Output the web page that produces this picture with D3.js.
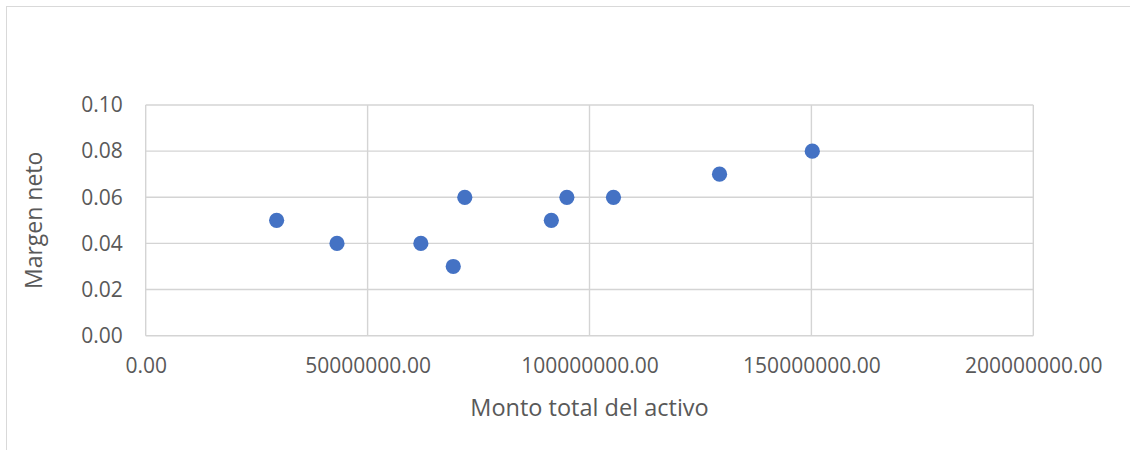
<!DOCTYPE html>
<html>
<head>
<meta charset="utf-8">
<script src="https://cdn.jsdelivr.net/npm/d3@7"></script>
<style>
    body { margin: 0; background: #fff; }
    svg { display: block; font-family: "Open Sans", sans-serif; }
</style>
</head>
<body>
<svg class="chart" width="1130" height="450"></svg>
<script>
// data
const activo = [29500000, 43100000, 62000000, 69300000, 71900000, 91400000, 94900000, 105400000, 129300000, 150200000];
const margen = [0.05, 0.04, 0.04, 0.03, 0.06, 0.05, 0.06, 0.06, 0.07, 0.08];
const xTicks = [0, 50000000, 100000000, 150000000, 200000000];
const yTicks = [0, 0.02, 0.04, 0.06, 0.08, 0.10];

const svg = d3.select('.chart');

// chart area border (runs off right/bottom edge)
svg.append('rect')
    .attr('x', 6.5).attr('y', 6.5)
    .attr('width', 1140).attr('height', 460)
    .attr('fill', 'none')
    .attr('stroke', '#d9d9d9');

const plot = { left: 145.7, right: 1033.3, top: 105, bottom: 335.7 };

const x = d3.scaleLinear().domain([0, 200000000]).range([plot.left, plot.right]);
const y = d3.scaleLinear().domain([0, 0.10]).range([plot.bottom, plot.top]);

// gridlines
const grid = svg.append('g').attr('stroke', '#d4d4d4').attr('stroke-width', 1.4);
grid.selectAll('.gx').data(xTicks).join('line')
    .attr('x1', d => x(d)).attr('x2', d => x(d))
    .attr('y1', plot.top).attr('y2', plot.bottom);
grid.selectAll('.gy').data(yTicks).join('line')
    .attr('x1', plot.left).attr('x2', plot.right)
    .attr('y1', d => y(d)).attr('y2', d => y(d));

// axes labels via d3 axes, lines hidden
const xAxis = svg.append('g')
    .attr('transform', `translate(0,${plot.bottom})`)
    .call(d3.axisBottom(x).tickValues(xTicks).tickFormat(d3.format('.2f')).tickSize(0).tickPadding(22));
const yAxis = svg.append('g')
    .attr('transform', `translate(${plot.left},0)`)
    .call(d3.axisLeft(y).tickValues(yTicks).tickFormat(d3.format('.2f')).tickSize(0).tickPadding(23));

[xAxis, yAxis].forEach(a => {
    a.select('.domain').remove();
    a.selectAll('text')
        .attr('fill', '#595959')
        .style('font-family', '"Open Sans", sans-serif')
        .style('font-size', '21px');
});

// points
svg.append('g').selectAll('circle')
    .data(activo.map((v, i) => [v, margen[i]]))
    .join('circle')
    .attr('cx', d => x(d[0]))
    .attr('cy', d => y(d[1]))
    .attr('r', 7.6)
    .attr('fill', '#4472c4');

// axis titles
svg.append('text')
    .attr('x', (plot.left + plot.right) / 2)
    .attr('y', 416)
    .attr('text-anchor', 'middle')
    .attr('fill', '#595959')
    .style('font-size', '23.5px')
    .text('Monto total del activo');

svg.append('text')
    .attr('transform', `translate(42,${(plot.top + plot.bottom) / 2}) rotate(-90)`)
    .attr('text-anchor', 'middle')
    .attr('fill', '#595959')
    .style('font-size', '23px')
    .text('Margen neto');
</script>
</body>
</html>
